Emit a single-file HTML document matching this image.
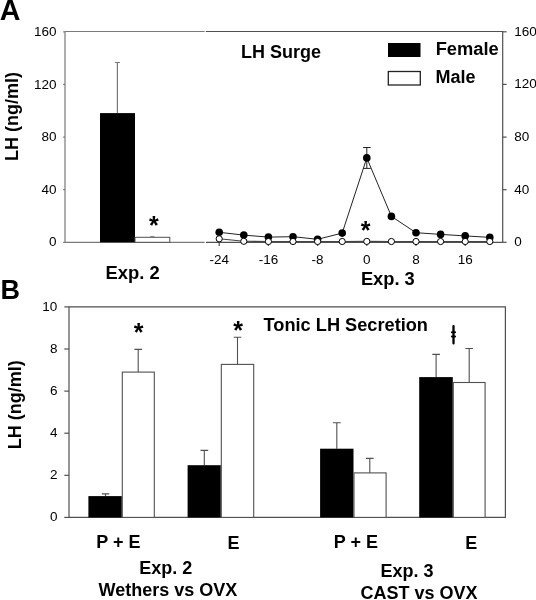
<!DOCTYPE html><html><head><meta charset="utf-8"><style>html,body{margin:0;padding:0;background:#fff;width:536px;height:600px;overflow:hidden}svg{display:block;filter:grayscale(1)}text{font-family:"Liberation Sans",sans-serif}.b{font-weight:bold;font-size:18px}.t{font-size:13.5px}</style></head><body>
<svg width="536" height="600" viewBox="0 0 536 600">
<text x="-0.3" y="19.7" style="font-weight:bold;font-size:28.6px">A</text>
<text x="0.6" y="298.8" style="font-weight:bold;font-size:27px">B</text>
<g stroke="#7a7a7a" stroke-width="1.2" fill="none">
<path d="M65,31.5 H204.6 M65,31.5 V242.3 M65,242.3 H204.6"/>
<path d="M63.2,242.3 H65"/>
<path d="M63.2,189.7 H65"/>
<path d="M63.2,137.1 H65"/>
<path d="M63.2,84.4 H65"/>
<path d="M63.2,31.8 H65"/>
</g>
<text class="t" x="56.5" y="246.4" text-anchor="end">0</text>
<text class="t" x="56.5" y="193.8" text-anchor="end">40</text>
<text class="t" x="56.5" y="141.2" text-anchor="end">80</text>
<text class="t" x="56.5" y="88.5" text-anchor="end">120</text>
<text class="t" x="56.5" y="35.9" text-anchor="end">160</text>
<text class="b" transform="translate(18,161) rotate(-90)">LH (ng/ml)</text>
<rect x="100" y="113.1" width="35" height="129.2" fill="#000"/>
<path d="M117.4,113.1 V62.5 M115,62.5 H120" stroke="#7a7a7a" stroke-width="1.2"/>
<rect x="135" y="237.3" width="34.8" height="5" fill="#fff" stroke="#505050" stroke-width="1"/>
<path d="M150.2,236.6 H154.3" stroke="#7a7a7a" stroke-width="1"/>
<text x="153.8" y="233.6" text-anchor="middle" style="font-weight:bold;font-size:25px">*</text>
<text class="b" x="105.6" y="279.1" style="font-size:18.4px">Exp. 2</text>
<g stroke="#505050" stroke-width="1.2" fill="none">
<path d="M205.8,31.5 H502.7 V242.4 M206,242.4 H502.7"/>
<path d="M502.7,242.3 H506.6"/>
<path d="M502.7,189.7 H506.6"/>
<path d="M502.7,137.1 H506.6"/>
<path d="M502.7,84.4 H506.6"/>
<path d="M502.7,31.8 H506.6"/>
<path d="M219.2,242.4 V246"/>
<path d="M268.4,242.4 V246"/>
<path d="M317.6,242.4 V246"/>
<path d="M366.8,242.4 V246"/>
<path d="M416.0,242.4 V246"/>
<path d="M465.2,242.4 V246"/>
</g>
<text class="t" x="514.3" y="246.3">0</text>
<text class="t" x="514.3" y="193.7">40</text>
<text class="t" x="514.3" y="141.1">80</text>
<text class="t" x="514.3" y="88.4">120</text>
<text class="t" x="514.3" y="35.8">160</text>
<text class="t" x="219.2" y="264.1" text-anchor="middle">-24</text>
<text class="t" x="268.4" y="264.1" text-anchor="middle">-16</text>
<text class="t" x="317.6" y="264.1" text-anchor="middle">-8</text>
<text class="t" x="366.8" y="264.1" text-anchor="middle">0</text>
<text class="t" x="416.0" y="264.1" text-anchor="middle">8</text>
<text class="t" x="465.2" y="264.1" text-anchor="middle">16</text>
<text class="b" x="241" y="58">LH Surge</text>
<text class="b" x="360.9" y="284.6" style="font-size:18.3px">Exp. 3</text>
<rect x="388" y="43" width="32.5" height="14" fill="#000"/>
<rect x="388.3" y="71.5" width="32" height="13.5" fill="#fff" stroke="#222" stroke-width="1.3"/>
<text class="b" x="435.7" y="55" style="font-size:18.3px">Female</text>
<text class="b" x="435.5" y="82.9">Male</text>
<polyline points="219.2,232.3 243.8,235.1 268.4,237.1 293.0,236.7 317.6,239.3 342.2,233.1 366.8,157.9 391.4,216.4 416.0,232.7 440.6,234.4 465.2,235.9 489.8,237.4" fill="none" stroke="#222" stroke-width="1"/>
<polyline points="219.2,238.8 243.8,241.3 268.4,241.5 293.0,241.5 317.6,241.5 342.2,241.5 366.8,241.4 391.4,241.5 416.0,241.5 440.6,241.5 465.2,241.5 489.8,241.5" fill="none" stroke="#444" stroke-width="1.1"/>
<path d="M366.8,147.5 V168.4 M363.1,147.5 H370.7 M363.1,168.4 H370.7" stroke="#222" stroke-width="1"/>
<circle cx="219.2" cy="232.3" r="3.8" fill="#000"/>
<circle cx="243.8" cy="235.1" r="3.8" fill="#000"/>
<circle cx="268.4" cy="237.1" r="3.8" fill="#000"/>
<circle cx="293.0" cy="236.7" r="3.8" fill="#000"/>
<circle cx="317.6" cy="239.3" r="3.8" fill="#000"/>
<circle cx="342.2" cy="233.1" r="3.8" fill="#000"/>
<circle cx="366.8" cy="157.9" r="3.8" fill="#000"/>
<circle cx="391.4" cy="216.4" r="3.8" fill="#000"/>
<circle cx="416.0" cy="232.7" r="3.8" fill="#000"/>
<circle cx="440.6" cy="234.4" r="3.8" fill="#000"/>
<circle cx="465.2" cy="235.9" r="3.8" fill="#000"/>
<circle cx="489.8" cy="237.4" r="3.8" fill="#000"/>
<circle cx="219.2" cy="238.8" r="3.1" fill="#fff" stroke="#000" stroke-width="1"/>
<circle cx="243.8" cy="241.3" r="3.1" fill="#fff" stroke="#000" stroke-width="1"/>
<circle cx="268.4" cy="241.5" r="3.1" fill="#fff" stroke="#000" stroke-width="1"/>
<circle cx="293.0" cy="241.5" r="3.1" fill="#fff" stroke="#000" stroke-width="1"/>
<circle cx="317.6" cy="241.5" r="3.1" fill="#fff" stroke="#000" stroke-width="1"/>
<circle cx="342.2" cy="241.5" r="3.1" fill="#fff" stroke="#000" stroke-width="1"/>
<circle cx="366.8" cy="241.4" r="3.1" fill="#fff" stroke="#000" stroke-width="1"/>
<circle cx="391.4" cy="241.5" r="3.1" fill="#fff" stroke="#000" stroke-width="1"/>
<circle cx="416.0" cy="241.5" r="3.1" fill="#fff" stroke="#000" stroke-width="1"/>
<circle cx="440.6" cy="241.5" r="3.1" fill="#fff" stroke="#000" stroke-width="1"/>
<circle cx="465.2" cy="241.5" r="3.1" fill="#fff" stroke="#000" stroke-width="1"/>
<circle cx="489.8" cy="241.5" r="3.1" fill="#fff" stroke="#000" stroke-width="1"/>
<text x="365.5" y="238.7" text-anchor="middle" style="font-weight:bold;font-size:25px">*</text>
<g stroke="#505050" stroke-width="1.2" fill="none">
<path d="M69,306.8 H505.4 V517.4 H69 Z"/>
<path d="M64.3,517.4 H69"/>
<path d="M64.3,475.3 H69"/>
<path d="M64.3,433.2 H69"/>
<path d="M64.3,391.1 H69"/>
<path d="M64.3,349.0 H69"/>
<path d="M64.3,306.9 H69"/>
</g>
<text class="t" x="57.4" y="521.3" text-anchor="end">0</text>
<text class="t" x="57.4" y="479.2" text-anchor="end">2</text>
<text class="t" x="57.4" y="437.1" text-anchor="end">4</text>
<text class="t" x="57.4" y="395.0" text-anchor="end">6</text>
<text class="t" x="57.4" y="352.9" text-anchor="end">8</text>
<text class="t" x="57.4" y="310.8" text-anchor="end">10</text>
<text class="b" transform="translate(21.3,449.3) rotate(-90)">LH (ng/ml)</text>
<text class="b" x="263.6" y="330.7" style="font-size:18.2px">Tonic LH Secretion</text>
<path d="M105.5,496.1 V493.9 M101.8,493.9 H109.3" stroke="#505050" stroke-width="1.1"/>
<rect x="88.4" y="496.1" width="33.4" height="21.3" fill="#000"/>
<path d="M138.2,372.1 V349.4 M134.4,349.4 H142.1" stroke="#505050" stroke-width="1.1"/>
<rect x="122.3" y="372.1" width="32.0" height="145.3" fill="#fff" stroke="#505050" stroke-width="1.1"/>
<path d="M204.3,465.2 V450.4 M200.5,450.4 H208.2" stroke="#505050" stroke-width="1.1"/>
<rect x="187.6" y="465.2" width="33.2" height="52.2" fill="#000"/>
<path d="M237.5,364.4 V337.3 M233.7,337.3 H241.3" stroke="#505050" stroke-width="1.1"/>
<rect x="221.3" y="364.4" width="32.4" height="153.0" fill="#fff" stroke="#505050" stroke-width="1.1"/>
<path d="M336.8,448.7 V422.7 M332.9,422.7 H340.7" stroke="#505050" stroke-width="1.1"/>
<rect x="320.1" y="448.7" width="33.4" height="68.7" fill="#000"/>
<path d="M369.8,472.9 V458.4 M366.0,458.4 H373.6" stroke="#505050" stroke-width="1.1"/>
<rect x="354.0" y="472.9" width="32.1" height="44.5" fill="#fff" stroke="#505050" stroke-width="1.1"/>
<path d="M436.1,377.1 V354.4 M432.3,354.4 H439.9" stroke="#505050" stroke-width="1.1"/>
<rect x="419.2" y="377.1" width="33.6" height="140.3" fill="#000"/>
<path d="M469.2,382.5 V348.5 M465.4,348.5 H473.0" stroke="#505050" stroke-width="1.1"/>
<rect x="453.3" y="382.5" width="31.8" height="134.9" fill="#fff" stroke="#505050" stroke-width="1.1"/>
<text x="138.5" y="340.7" text-anchor="middle" style="font-weight:bold;font-size:25px">*</text>
<text x="238" y="339.3" text-anchor="middle" style="font-weight:bold;font-size:25px">*</text>
<path d="M453.5,326.1 V343.4" stroke="#000" stroke-width="2.3" stroke-linecap="round"/>
<path d="M452,332.3 H455 M452,336.5 H455" stroke="#000" stroke-width="2.1" stroke-linecap="round"/>
<text class="b" x="96.3" y="548.3">P + E</text>
<text class="b" x="227.4" y="548.6">E</text>
<text class="b" x="139.2" y="574.3">Exp. 2</text>
<text class="b" x="98.5" y="595.9">Wethers vs OVX</text>
<text class="b" x="333.8" y="548.1">P + E</text>
<text class="b" x="465.3" y="548.5">E</text>
<text class="b" x="380.4" y="577.4">Exp. 3</text>
<text class="b" x="360.4" y="598.7">CAST vs OVX</text>
</svg></body></html>
